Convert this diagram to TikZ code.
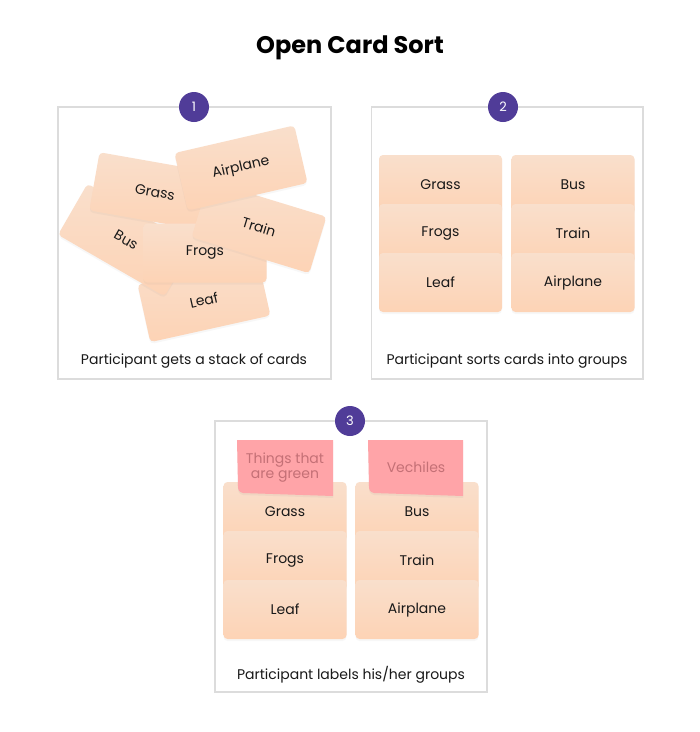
\documentclass[tikz,border=0pt]{standalone}
\usepackage{fontspec}
\setmainfont{Poppins}
\usetikzlibrary{shadows}
\definecolor{cardtop}{RGB}{249,223,204}
\definecolor{cardbot}{RGB}{253,211,181}
\definecolor{panelline}{RGB}{220,220,220}
\definecolor{badge}{RGB}{80,60,152}
\definecolor{sticky}{RGB}{255,164,168}
\definecolor{stickytext}{RGB}{196,112,118}
\definecolor{ink}{RGB}{25,25,25}
\newcommand{\cardshape}[3]{%
  \path[card, rotate around={#3:(#1,#2)}] ({#1-61.5},{#2-29.5}) rectangle ({#1+61.5},{#2+29.5});}
\begin{document}
\begin{tikzpicture}[x=1pt,y=-1pt,
  panel/.style={draw=panelline, line width=1.6pt, fill=white},
  badgenode/.style={circle, fill=badge, minimum size=30pt, inner sep=0pt, text=white, font=\fontsize{13}{15}\selectfont},
  card/.style={rounded corners=4pt, top color=cardtop, bottom color=cardbot,
    drop shadow={opacity=0.06, shadow xshift=0pt, shadow yshift=-2pt}},
  cardtext/.style={text=ink, font=\fontsize{14}{16}\selectfont, inner sep=0pt},
  caption/.style={text=ink, font=\fontsize{14}{16}\selectfont, inner sep=0pt},
  stickynote/.style={fill=sticky, drop shadow={opacity=0.08, shadow xshift=0pt, shadow yshift=-2pt}},
  stickylabel/.style={text=stickytext, font=\fontsize{14}{15}\selectfont, align=center, inner sep=0pt}
]
\useasboundingbox (0,0) rectangle (700,732);
\fill[white] (0,0) rectangle (700,732);

% title
\node[font=\fontsize{24}{28}\selectfont\bfseries, text=black] (title) at (350,48) {Open Card Sort};

% ---------- panel 1 ----------
\draw[panel] (58,107) rectangle (331,379);
\cardshape{204}{300}{12.5}
\node[cardtext, rotate=12.5] (t1leaf) at (204,300) {Leaf};
\cardshape{126}{240}{-30}
\node[cardtext, rotate=-30] (t1bus) at (126,240) {Bus};
\cardshape{155}{192}{-10}
\node[cardtext, rotate=-10] (t1grass) at (155,192) {Grass};
\cardshape{205}{253}{0}
\node[cardtext] (t1frogs) at (205,253) {Frogs};
\cardshape{259}{227}{-17}
\node[cardtext, rotate=-17] (t1train) at (259,227) {Train};
\cardshape{241}{168}{13}
\node[cardtext, rotate=13] (t1airplane) at (241,168) {Airplane};
\node[badgenode] (b1) at (194,107) {1};
\node[caption] (cap1) at (194,361) {Participant gets a stack of cards};

% ---------- panel 2 ----------
\draw[panel] (371.5,107) rectangle (643,379);
\cardshape{440.5}{184.5}{0}
\node[cardtext] (t2grass) at (440.5,184.5) {Grass};
\cardshape{440.5}{233.5}{0}
\node[cardtext] (t2frogs) at (440.5,233.5) {Frogs};
\cardshape{440.5}{282.5}{0}
\node[cardtext] (t2leaf) at (440.5,282.5) {Leaf};
\cardshape{573}{184.5}{0}
\node[cardtext] (t2bus) at (573,184.5) {Bus};
\cardshape{573}{233.5}{0}
\node[cardtext] (t2train) at (573,233.5) {Train};
\cardshape{573}{282.5}{0}
\node[cardtext] (t2airplane) at (573,282.5) {Airplane};
\node[badgenode] (b2) at (503,107) {2};
\node[caption] (cap2) at (507,361) {Participant sorts cards into groups};

% ---------- panel 3 ----------
\draw[panel] (215,421) rectangle (487,692);
\cardshape{285}{511.5}{0}
\node[cardtext] (t3grass) at (285,511.5) {Grass};
\cardshape{285}{560.5}{0}
\node[cardtext] (t3frogs) at (285,560.5) {Frogs};
\cardshape{285}{609.5}{0}
\node[cardtext] (t3leaf) at (285,609.5) {Leaf};
\cardshape{417}{511.5}{0}
\node[cardtext] (t3bus) at (417,511.5) {Bus};
\cardshape{417}{560.5}{0}
\node[cardtext] (t3train) at (417,560.5) {Train};
\cardshape{417}{609.5}{0}
\node[cardtext] (t3airplane) at (417,609.5) {Airplane};
% sticky notes
\path[stickynote] (237,440) -- (333,440) -- (333,496) -- (243,493) .. controls (239,492) and (238,490) .. (238,486) -- cycle;
\path[stickynote] (368,440) -- (463,440) -- (463,496) -- (374,493) .. controls (370,492) and (369,490) .. (369,486) -- cycle;
\node[stickylabel] (s1) at (285,468) {Things that\\are green};
\node[stickylabel] (s2) at (416,467) {Vechiles};
\node[badgenode] (b3) at (350,421) {3};
\node[caption] (cap3) at (351,675) {Participant labels his/her groups};
\end{tikzpicture}
\end{document}
